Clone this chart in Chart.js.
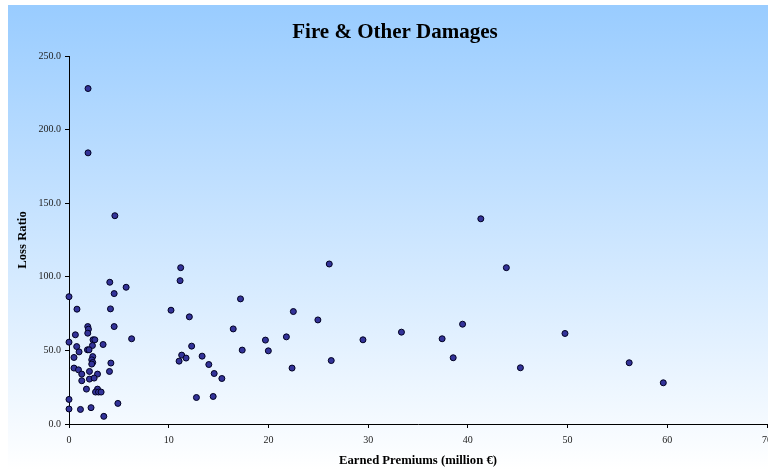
<!DOCTYPE html>
<html>
<head>
<meta charset="utf-8">
<script src="https://cdn.jsdelivr.net/npm/chart.js@4"></script>
<style>
html,body{margin:0;padding:0;background:#fff;}
#wrap{width:768px;height:472px;position:relative;}
</style>
</head>
<body>
<div id="wrap"><canvas id="c" width="768" height="472"></canvas></div>
<script>
const chartTitle = "Fire & Other Damages";
const xAxisTitle = "Earned Premiums (million €)";
const yAxisTitle = "Loss Ratio";
const xTicks = [0, 10, 20, 30, 40, 50, 60, 70];
const yTicks = [0, 50, 100, 150, 200, 250];

// Earned premiums (million €) per company
const premiums = [
  1.91, 1.91, 4.60, 4.09, 5.73, 4.53, 0.00, 0.80, 4.16, 10.23,
  4.53, 1.88, 1.95, 1.88, 0.64, 6.28, 2.41, 2.59, 0.00, 0.77,
  2.35, 3.42, 1.01, 1.85, 2.01, 2.38, 0.50, 2.28, 2.38, 2.28,
  4.20, 0.50, 0.95, 1.28, 2.05, 2.86, 4.06, 1.28, 2.05, 2.52,
  1.75, 2.86, 2.66, 2.96, 3.22, 0.00, 4.90, 0.00, 1.15, 2.21,
  3.49, 11.20, 11.14, 17.20, 12.07, 16.47, 26.10, 22.50, 24.96, 19.70,
  21.80, 12.30, 17.37, 19.99, 11.30, 11.74, 11.04, 13.35, 14.02, 14.56,
  15.33, 26.30, 22.37, 12.78, 14.46, 41.30, 43.86, 39.47, 33.34, 29.48,
  37.42, 38.53, 45.27, 49.74, 56.18, 59.60
];
// Loss ratio per company
const lossRatios = [
  227.9, 184.2, 141.5, 96.3, 92.9, 88.6, 86.5, 78.0, 78.2, 77.3,
  66.2, 66.2, 64.4, 61.7, 60.6, 57.9, 57.2, 57.2, 55.6, 52.6,
  53.3, 54.0, 49.0, 50.4, 50.4, 45.8, 45.2, 43.6, 41.8, 40.7,
  41.4, 38.0, 36.8, 33.9, 35.7, 33.9, 35.7, 29.4, 30.5, 31.2,
  23.7, 23.7, 21.7, 21.7, 21.7, 16.7, 14.0, 10.2, 9.9, 11.1,
  5.2, 106.2, 97.4, 85.0, 72.8, 64.6, 108.7, 76.4, 70.7, 57.0,
  59.2, 52.9, 50.2, 49.7, 46.8, 44.8, 42.7, 46.1, 40.4, 34.3,
  30.9, 43.1, 38.0, 18.0, 18.7, 139.4, 106.2, 67.8, 62.4, 57.2,
  57.9, 45.0, 38.2, 61.5, 41.6, 28.0
];

const points = premiums.map((x, i) => ({x: x, y: lossRatios[i]}));

const bgPlugin = {
  id: 'bg',
  beforeDraw(chart) {
    const ctx = chart.ctx;
    ctx.save();
    ctx.fillStyle = '#ffffff';
    ctx.fillRect(0, 0, chart.width, chart.height);
    const g = ctx.createLinearGradient(0, 5, 0, 470);
    g.addColorStop(0, '#99ccff');
    g.addColorStop(1, '#ffffff');
    ctx.fillStyle = g;
    ctx.fillRect(8, 5, chart.width - 8, chart.height - 5);
    ctx.restore();
  },
  afterDraw(chart) {
    const ctx = chart.ctx;
    ctx.save();
    ctx.font = 'bold 21px "Liberation Serif", "DejaVu Serif", serif';
    ctx.fillStyle = '#000000';
    ctx.textAlign = 'center';
    ctx.textBaseline = 'middle';
    ctx.fillText(chartTitle, 395, 33);
    ctx.restore();
  }
};

const serif = '"Liberation Serif", "DejaVu Serif", serif';
const zeroPad = () => ({left: 0, top: 0, right: 0, bottom: 0});

new Chart(document.getElementById('c'), {
  type: 'scatter',
  data: {
    datasets: [{
      data: points,
      backgroundColor: '#333399',
      borderColor: '#000022',
      borderWidth: 1,
      pointRadius: 3,
      pointHoverRadius: 3,
      clip: false
    }]
  },
  options: {
    responsive: false,
    animation: false,
    devicePixelRatio: 1,
    layout: {autoPadding: false, padding: {top: 56, right: 1, bottom: 0, left: 0}},
    plugins: {
      legend: {display: false},
      tooltip: {enabled: false},
      title: {display: false}
    },
    scales: {
      x: {
        type: 'linear',
        min: xTicks[0],
        max: xTicks[xTicks.length - 1],
        afterBuildTicks(scale) { scale.ticks = xTicks.map(v => ({value: v})); },
        afterFit(scale) { scale.height = 48; scale.paddingLeft = 0; scale.paddingRight = 0; scale.getPadding = zeroPad; },
        grid: {display: true, drawOnChartArea: false, drawTicks: true, tickLength: 4, color: '#000000', lineWidth: 1},
        border: {display: true, color: '#000000', width: 1},
        ticks: {color: '#222222', font: {family: serif, size: 10}, padding: 6, maxRotation: 0, autoSkip: false},
        title: {display: true, text: xAxisTitle, color: '#000000', font: {family: serif, size: 12.7, weight: 'bold'}, padding: {top: 0, bottom: 4}}
      },
      y: {
        type: 'linear',
        min: yTicks[0],
        max: yTicks[yTicks.length - 1],
        afterBuildTicks(scale) { scale.ticks = yTicks.map(v => ({value: v})); },
        afterFit(scale) { scale.width = 69; scale.paddingTop = 0; scale.paddingBottom = 0; scale.getPadding = zeroPad; },
        grid: {display: true, drawOnChartArea: false, drawTicks: true, tickLength: 4, color: '#000000', lineWidth: 1},
        border: {display: true, color: '#000000', width: 1},
        ticks: {color: '#222222', font: {family: serif, size: 10}, padding: 4, autoSkip: false,
          callback: (v) => Number(v).toFixed(1)},
        title: {display: true, text: yAxisTitle, color: '#000000', font: {family: serif, size: 12.7, weight: 'bold'}, padding: {top: 15, bottom: 0}}
      }
    }
  },
  plugins: [bgPlugin]
});
</script>
</body>
</html>
